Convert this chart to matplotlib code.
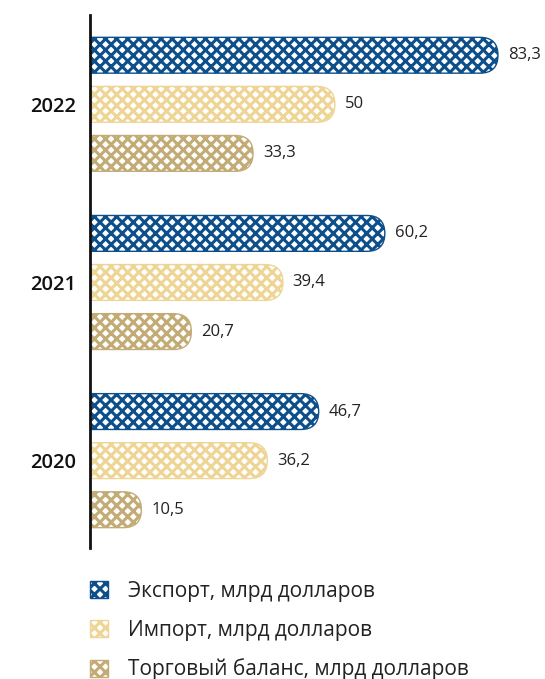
import matplotlib.pyplot as plt
from matplotlib.patches import FancyBboxPatch, Patch

plt.rcParams['font.family'] = ['Open Sans', 'DejaVu Sans']
plt.rcParams['hatch.linewidth'] = 2.2

# данные
years = ['2020', '2021', '2022']
export_vals = [46.7, 60.2, 83.3]
import_vals = [36.2, 39.4, 50]
balance_vals = [10.5, 20.7, 33.3]
series_names = ['Экспорт, млрд долларов', 'Импорт, млрд долларов',
                'Торговый баланс, млрд долларов']
colors = ['#0d4f8b', '#efd595', '#c2ab75']

group_step = 3.63
bar_h = 0.73
offsets = [1, 0, -1]

fig = plt.figure(figsize=(5.45, 6.79), dpi=100)
ax = fig.add_axes([0.165, 1 - 548 / 679, 1 - 0.165, (548 - 15) / 679])
ax.set_xlim(0, 92.9)
ax.set_ylim(-1.78, 2 * group_step + 1.82)

# соотношение пикселей на единицу по осям
p0 = ax.transData.transform((0, 0))
p1 = ax.transData.transform((1, 1))
aspect = (p1[0] - p0[0]) / (p1[1] - p0[1])

for vals, off, col in zip([export_vals, import_vals, balance_vals], offsets, colors):
    for i, v in enumerate(vals):
        yc = i * group_step + off
        r = bar_h / 2 / aspect
        box = FancyBboxPatch((-r, yc - bar_h / 2), v + r, bar_h,
                             boxstyle=f'round,pad=0,rounding_size={r}',
                             mutation_aspect=aspect,
                             facecolor='white', edgecolor=col, hatch='xxx',
                             linewidth=1.0)
        ax.add_patch(box)
        ax.text(v + 2.0, yc, f'{v:g}'.replace('.', ','), va='center', ha='left',
                fontsize=12, color='#222222')

ax.set_yticks([i * group_step for i in range(len(years))])
ax.set_yticklabels(years, fontsize=14.5, fontweight='semibold', color='#111111')
ax.tick_params(axis='y', length=0, pad=10)
ax.set_xticks([])
for s in ['top', 'right', 'bottom']:
    ax.spines[s].set_visible(False)
ax.spines['left'].set_linewidth(2)
ax.spines['left'].set_color('#111111')

handles = [Patch(facecolor='white', edgecolor=c, hatch='xxx', linewidth=1.0) for c in colors]
fig.legend(handles, series_names, loc='upper left', bbox_to_anchor=(90 / 545, 1 - 581 / 679),
           frameon=False, fontsize=15, handlelength=0.87, handleheight=0.87,
           labelspacing=0.85, handletextpad=0.95, borderpad=0, borderaxespad=0,
           labelcolor='#222222')

fig.savefig('out.png', dpi=100)
